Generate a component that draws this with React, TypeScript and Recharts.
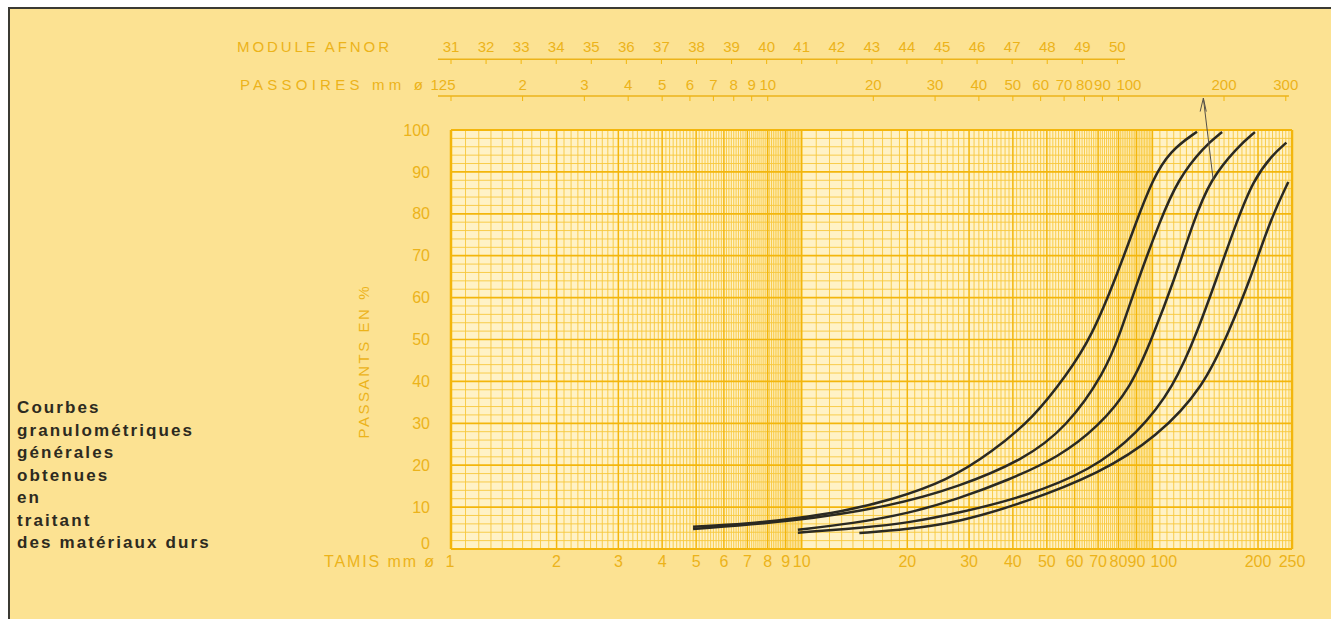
import React from 'react';
import { ComposedChart, Line, XAxis, YAxis, ReferenceLine, ReferenceArea } from 'recharts';

// ---- tick labels ----
const tamisTicks = [1, 2, 3, 4, 5, 6, 7, 8, 9, 10, 20, 30, 40, 50, 60, 70, 80, 90, 100, 200, 250];
const passantTicks = [0, 10, 20, 30, 40, 50, 60, 70, 80, 90, 100];
const moduleLabels = [31, 32, 33, 34, 35, 36, 37, 38, 39, 40, 41, 42, 43, 44, 45, 46, 47, 48, 49, 50];
const passoireValues = [1.25, 2, 3, 4, 5, 6, 7, 8, 9, 10, 20, 30, 40, 50, 60, 70, 80, 90, 100, 200, 300];
const passoireLabels = ['125', '2', '3', '4', '5', '6', '7', '8', '9', '10', '20', '30', '40', '50', '60', '70', '80', '90', '100', '200', '300'];

// AFNOR module m <-> square sieve size 10^((m-31)/10) mm ; round hole passoire p <-> sieve p/1.25
const moduleTicks = moduleLabels.map((m) => Math.pow(10, (m - 31) / 10));
const passoireTicks = passoireValues.map((p) => p / 1.25);

// ---- curves (sieve size mm, % passing) ----
const curve1Sizes = [4.9, 7, 9.4, 13, 18, 26, 35, 46, 57, 67, 80, 90, 100, 112, 134];
const curve1Pass = [5.3, 6.0, 7.2, 8.9, 11.7, 16.3, 23.2, 31.5, 41.6, 50.5, 66.3, 78.2, 88.1, 95.0, 99.6];
const curve2Sizes = [4.9, 9.4, 18, 28, 43, 57, 73, 81, 91, 105, 118, 140, 158];
const curve2Pass = [4.8, 6.5, 10.2, 14.8, 21.3, 29.1, 42.0, 51.5, 64.3, 78.2, 88.1, 96.0, 99.5];
const curve3Sizes = [9.75, 14, 20, 28, 39, 54, 70, 87, 100, 115.5, 131, 146, 175, 196];
const curve3Pass = [4.6, 6.1, 8.4, 12.0, 16.5, 21.9, 29.1, 38.6, 50.5, 64.3, 78.2, 88.1, 96.0, 99.5];
const curve4Sizes = [9.75, 15, 20, 28, 43, 67, 91, 115, 135, 152, 174, 194, 220, 241];
const curve4Pass = [3.9, 5.1, 6.2, 8.6, 12.4, 18.8, 27.7, 38.6, 52.3, 64.3, 78.2, 88.1, 94.1, 97.0];
const curve5Sizes = [14.6, 20, 28, 43, 71, 103, 140, 166, 190, 216, 244];
const curve5Pass = [3.8, 4.7, 6.4, 11.0, 18.1, 26.7, 38.6, 52.3, 64.3, 78.2, 87.6];

const toData = (s: number[], p: number[]) => s.map((v, i) => ({ size: v, pass: p[i] }));
const curves = [
  toData(curve1Sizes, curve1Pass),
  toData(curve2Sizes, curve2Pass),
  toData(curve3Sizes, curve3Pass),
  toData(curve4Sizes, curve4Pass),
  toData(curve5Sizes, curve5Pass),
];

// ---- paper grid ----
const gridMajorX = [1, 2, 3, 4, 5, 6, 7, 8, 9, 10, 20, 30, 40, 50, 60, 70, 80, 90, 100, 200, 250];
const gridMinorX: number[] = [];
for (const d of [1, 10]) {
  for (let k = 11; k < 100; k++) {
    if (k % 10 !== 0) gridMinorX.push((d * k) / 10);
  }
}
for (let k = 105; k < 250; k += 5) {
  if (k % 100 !== 0) gridMinorX.push(k);
}
const gridMajorY = [0, 10, 20, 30, 40, 50, 60, 70, 80, 90, 100];
const gridMinorY: number[] = [];
for (let k = 2; k < 100; k += 2) {
  if (k % 10 !== 0) gridMinorY.push(k);
}

const description = ['Courbes', 'granulométriques', 'générales', 'obtenues', 'en', 'traitant', 'des matériaux durs'];

const labelColor = '#ECB31A';
const majorColor = '#F3B60C';
const minorColor = '#F7C73C';
const inkColor = '#2A2922';
const font = "'Liberation Sans', Arial, sans-serif";

const textStyle = { fill: labelColor, fontFamily: font, fontSize: 16 } as const;
const topStyle = { fill: labelColor, fontFamily: font, fontSize: 15 } as const;

const TamisTick = (props: any) => {
  const { x, y, index } = props;
  const lbl = String(tamisTicks[index]);
  let tx = x;
  let anchor: any = 'middle';
  if (index === 0) tx = x - 1;
  if (lbl === '100') {
    anchor = 'start';
    tx = x - 2;
  }
  return (
    <g>
      {index === 0 && (
        <text x={x - 17} y={y + 12} dy="0.35em" textAnchor="end" textLength={110} lengthAdjust="spacing" style={textStyle}>
          TAMIS mm ø
        </text>
      )}
      <text x={tx} y={y + 12} dy="0.35em" textAnchor={anchor} style={textStyle}>
        {lbl}
      </text>
    </g>
  );
};

const PassTick = (props: any) => {
  const { x, y, index } = props;
  const lbl = passoireLabels[index];
  const ty = y - 45;
  let tx = x;
  let anchor: any = 'middle';
  if (index === 0) tx = x - 8;
  if (lbl === '100') {
    anchor = 'start';
    tx = x - 2;
  }
  return (
    <g>
      {index === 0 && (
        <text x={x - 28} y={ty} dy="0.35em" textAnchor="end" textLength={183} lengthAdjust="spacing" style={topStyle}>
          PASSOIRES mm ø
        </text>
      )}
      <text x={tx} y={ty} dy="0.35em" textAnchor={anchor} style={topStyle}>
        {lbl}
      </text>
      <line x1={x} x2={x} y1={y - 34} y2={y - 29} stroke={majorColor} strokeWidth={1} />
    </g>
  );
};

const ModuleTick = (props: any) => {
  const { x, y, index } = props;
  const ty = y - 12;
  return (
    <g>
      {index === 0 && (
        <text x={x - 62} y={ty} dy="0.35em" textAnchor="end" textLength={152} lengthAdjust="spacing" style={topStyle}>
          MODULE AFNOR
        </text>
      )}
      <text x={x} y={ty} dy="0.35em" textAnchor="middle" style={topStyle}>
        {String(moduleLabels[index])}
      </text>
      <line x1={x} x2={x} y1={y} y2={y + 5} stroke={majorColor} strokeWidth={1} />
    </g>
  );
};

const YTick = (props: any) => {
  const { x, y, index } = props;
  const shift = passantTicks[index] === 0 ? -6 : 0;
  return (
    <text x={x - 21} y={y + shift} dy="0.35em" textAnchor="end" style={textStyle}>
      {String(passantTicks[index])}
    </text>
  );
};

const YLabel = (props: any) => {
  const vb = props.viewBox || { x: 341, y: 121, width: 100, height: 419 };
  const cx = vb.x + 12;
  const cy = vb.y + vb.height / 2 + 23;
  return (
    <text
      x={cx}
      y={cy}
      transform={`rotate(-90 ${cx} ${cy})`}
      textAnchor="middle"
      dominantBaseline="central"
      textLength={152}
      lengthAdjust="spacing"
      style={{ fill: labelColor, fontFamily: font, fontSize: 15 }}
    >
      PASSANTS EN %
    </text>
  );
};

export default function App() {
  return (
    <div
      style={{
        position: 'absolute',
        left: 8,
        top: 7,
        width: 1323,
        height: 612,
        boxSizing: 'border-box',
        borderLeft: '2px solid #3b3a33',
        borderTop: '2px solid #3b3a33',
        background: '#FCE292',
        overflow: 'hidden',
      }}
    >
      <ComposedChart width={1321} height={610} margin={{ top: 20, right: 39, bottom: 34, left: 341 }}>
        <XAxis
          xAxisId="tamis"
          orientation="bottom"
          type="number"
          dataKey="size"
          scale="log"
          domain={[1, 250]}
          allowDataOverflow
          ticks={tamisTicks}
          interval={0}
          tick={(p: any) => <TamisTick {...p} />}
          tickLine={false}
          axisLine={false}
          tickSize={0}
          tickMargin={0}
          height={36}
        />
        <XAxis
          xAxisId="b_mod"
          orientation="top"
          type="number"
          dataKey="size"
          scale="log"
          domain={[1, 250]}
          allowDataOverflow
          ticks={moduleTicks}
          interval={0}
          tick={(p: any) => <ModuleTick {...p} />}
          tickLine={false}
          axisLine={false}
          tickSize={0}
          tickMargin={0}
          height={30}
        />
        <XAxis
          xAxisId="a_pass"
          orientation="top"
          type="number"
          dataKey="size"
          scale="log"
          domain={[1, 250]}
          allowDataOverflow
          ticks={passoireTicks}
          interval={0}
          tick={(p: any) => <PassTick {...p} />}
          tickLine={false}
          axisLine={false}
          tickSize={0}
          tickMargin={0}
          height={71}
        />
        <YAxis
          type="number"
          domain={[0, 100]}
          allowDataOverflow
          ticks={passantTicks}
          interval={0}
          tick={(p: any) => <YTick {...p} />}
          tickLine={false}
          axisLine={false}
          tickSize={0}
          tickMargin={0}
          width={100}
          label={(p: any) => <YLabel {...p} />}
        />
        <ReferenceArea xAxisId="tamis" x1={1} x2={250} y1={0} y2={100} fill="#FFF2C6" fillOpacity={1} stroke="none" />
        {gridMinorX.map((v) => (
          <ReferenceLine key={`mx${v}`} xAxisId="tamis" x={v} stroke={minorColor} strokeWidth={0.9} />
        ))}
        {gridMinorY.map((v) => (
          <ReferenceLine key={`my${v}`} xAxisId="tamis" y={v} stroke={minorColor} strokeWidth={0.9} />
        ))}
        {gridMajorX.map((v) => (
          <ReferenceLine key={`Mx${v}`} xAxisId="tamis" x={v} stroke={majorColor} strokeWidth={v === 1 || v === 250 ? 2.5 : 1.5} />
        ))}
        {gridMajorY.map((v) => (
          <ReferenceLine key={`My${v}`} xAxisId="tamis" y={v} stroke={majorColor} strokeWidth={v === 100 || v === 0 ? 2 : 1.7} />
        ))}
        <ReferenceLine
          xAxisId="tamis"
          segment={[{ x: 0.918, y: 108.1 }, { x: 245, y: 108.1 }]}
          stroke={labelColor}
          strokeWidth={1.5}
          ifOverflow="visible"
        />
        <ReferenceLine
          xAxisId="tamis"
          segment={[{ x: 0.918, y: 116.9 }, { x: 83.5, y: 116.9 }]}
          stroke={labelColor}
          strokeWidth={1.5}
          ifOverflow="visible"
        />
        {/* invisible carriers so the top scales get registered and drawn */}
        <Line xAxisId="b_mod" data={curves[0]} dataKey="pass" stroke="none" dot={false} activeDot={false} isAnimationActive={false} legendType="none" />
        <Line xAxisId="a_pass" data={curves[0]} dataKey="pass" stroke="none" dot={false} activeDot={false} isAnimationActive={false} legendType="none" />
        {curves.map((d, i) => (
          <Line
            key={`c${i}`}
            xAxisId="tamis"
            data={d}
            dataKey="pass"
            type="basis"
            stroke={inkColor}
            strokeWidth={2.5}
            dot={false}
            activeDot={false}
            isAnimationActive={false}
          />
        ))}
        <ReferenceLine
          xAxisId="tamis"
          segment={[{ x: 139.7, y: 107.6 }, { x: 149, y: 88.1 }]}
          stroke="#555048"
          strokeWidth={1}
          ifOverflow="visible"
        />
        <ReferenceLine
          xAxisId="tamis"
          segment={[{ x: 139.7, y: 107.6 }, { x: 136.8, y: 104.4 }]}
          stroke="#555048"
          strokeWidth={1}
          ifOverflow="visible"
        />
        <ReferenceLine
          xAxisId="tamis"
          segment={[{ x: 139.7, y: 107.6 }, { x: 142.4, y: 104.4 }]}
          stroke="#555048"
          strokeWidth={1}
          ifOverflow="visible"
        />
      </ComposedChart>
      <div
        style={{
          position: 'absolute',
          left: 7,
          top: 388,
          fontFamily: font,
          fontWeight: 700,
          fontSize: 17,
          lineHeight: '22.5px',
          letterSpacing: '2.1px',
          color: '#2d2a20',
          whiteSpace: 'pre',
        }}
      >
        {description.map((l) => (
          <div key={l}>{l}</div>
        ))}
      </div>
    </div>
  );
}
